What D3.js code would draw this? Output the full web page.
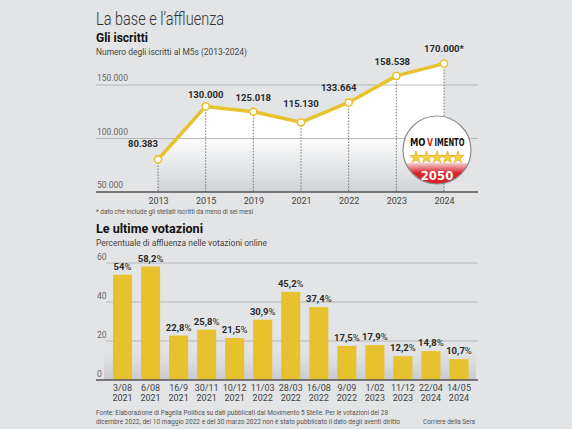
<!DOCTYPE html>
<html><head><meta charset="utf-8">
<script src="https://cdn.jsdelivr.net/npm/d3@7/dist/d3.min.js"></script>
<style>
html,body{margin:0;padding:0;background:#e2e4e6;}
svg{display:block;font-family:Roboto, "Open Sans", sans-serif;}
</style></head><body>
<svg id="c" width="572" height="429"></svg>
<script>
// ---- data ----
const years = ["2013","2015","2019","2021","2022","2023","2024"];
const members = [80383,130000,125018,115130,133664,158538,170000];
const memberLabels = ["80.383","130.000","125.018","115.130","133.664","158.538","170.000*"];
const memberTicks = [50000,100000,150000];
const memberTickLabels = ["50.000","100.000","150.000"];

const voteDays = ["3/08","6/08","16/9","30/11","10/12","11/03","28/03","16/08","9/09","1/02","11/12","22/04","14/05"];
const voteYears = ["2021","2021","2021","2021","2021","2022","2022","2022","2022","2023","2023","2024","2024"];
const turnout = [54,58.2,22.8,25.8,21.5,30.9,45.2,37.4,17.5,17.9,12.2,14.8,10.7];
const turnoutLabels = ["54","58,2","22,8","25,8","21,5","30,9","45,2","37,4","17,5","17,9","12,2","14,8","10,7"];
const turnoutTicks = [0,20,40,60];

// ---- drawing ----
const svg = d3.select("#c");
const gold = "#e8c22e";
const dark = "#2b2b2b";
const defs = svg.append("defs");

svg.append("rect").attr("width",572).attr("height",429).attr("fill","#e2e4e6");

// titles
svg.append("text").attr("x",96).attr("y",25).attr("font-size",18).attr("font-weight",300)
  .attr("fill","#333").attr("textLength",128).attr("lengthAdjust","spacingAndGlyphs").text("La base e l’affluenza");
svg.append("text").attr("x",96).attr("y",42).attr("font-size",13).attr("font-weight",700)
  .attr("fill","#111").attr("textLength",52).attr("lengthAdjust","spacingAndGlyphs").text("Gli iscritti");
svg.append("text").attr("x",96).attr("y",55).attr("font-size",8.5)
  .attr("fill","#444").attr("textLength",151).attr("lengthAdjust","spacingAndGlyphs").text("Numero degli iscritti al M5s (2013-2024)");

// line chart
const x1 = d3.scalePoint().domain(years).range([158,444]);
const y1 = d3.scaleLinear().domain([50000,150000]).range([192,85]);

const ag = defs.append("linearGradient").attr("id","ag")
  .attr("gradientUnits","userSpaceOnUse").attr("x1",0).attr("y1",y1(170000)).attr("x2",0).attr("y2",y1(50000));
ag.append("stop").attr("offset",0).attr("stop-color","#ffffff");
ag.append("stop").attr("offset",0.55).attr("stop-color","#ffffff");
ag.append("stop").attr("offset",1).attr("stop-color","#cfd2d5");

const area = d3.area().x((d,i)=>x1(years[i])).y0(y1(50000)).y1(d=>y1(d));
svg.append("path").datum(members).attr("d",area).attr("fill","url(#ag)");

// gridlines
memberTicks.forEach((t,i)=>{
  if (t>50000) svg.append("line").attr("x1",96).attr("x2",478).attr("y1",y1(t)).attr("y2",y1(t))
    .attr("stroke","#a9abad").attr("stroke-width",0.8);
  svg.append("text").attr("x",97).attr("y",y1(t)-4).attr("font-size",8.5).attr("fill","#666").text(memberTickLabels[i]);
});

// dashed drops
svg.selectAll(".drop").data(members).join("line")
  .attr("x1",(d,i)=>x1(years[i])).attr("x2",(d,i)=>x1(years[i]))
  .attr("y1",d=>y1(d)).attr("y2",y1(50000))
  .attr("stroke","#555").attr("stroke-width",0.8).attr("stroke-dasharray","1.5,1.5");

// axis
const xa = d3.axisBottom(x1).tickSize(0).tickPadding(6);
const gx = svg.append("g").attr("transform",`translate(0,${y1(50000)})`).call(xa);
gx.select(".domain").remove();
gx.selectAll("text").attr("font-size",9).attr("fill","#444").attr("font-family","Roboto, sans-serif");
svg.append("line").attr("x1",96).attr("x2",478).attr("y1",y1(50000)).attr("y2",y1(50000)).attr("stroke","#555").attr("stroke-width",1.5);

// line
const line = d3.line().x((d,i)=>x1(years[i])).y(d=>y1(d));
svg.append("path").datum(members).attr("d",line).attr("fill","none").attr("stroke",gold).attr("stroke-width",3.5).attr("stroke-linejoin","round");
svg.selectAll(".pt").data(members).join("circle")
  .attr("cx",(d,i)=>x1(years[i])).attr("cy",d=>y1(d)).attr("r",3.6)
  .attr("fill","#fff").attr("stroke",gold).attr("stroke-width",1.6);

// value labels
const lblOff = [[-15,-12],[0,-8],[0,-11],[0,-15],[-10,-11],[-4,-11],[0,-12]];
svg.selectAll(".vl").data(members).join("text")
  .attr("x",(d,i)=>x1(years[i])+lblOff[i][0]).attr("y",(d,i)=>y1(d)+lblOff[i][1])
  .attr("text-anchor","middle").attr("font-size",9.5).attr("font-weight",700).attr("fill",dark)
  .text((d,i)=>memberLabels[i]);

// logo
const lg = svg.append("g").attr("transform","translate(437,150)");
const R = 34;
defs.append("clipPath").attr("id","lc").append("circle").attr("r",R);
lg.append("circle").attr("r",R).attr("fill","#fff");
const lgc = lg.append("g").attr("clip-path","url(#lc)");
const rg = defs.append("linearGradient").attr("id","rg").attr("x1",0).attr("y1",0).attr("x2",0).attr("y2",1);
rg.append("stop").attr("offset",0).attr("stop-color","#f3d0d3");
rg.append("stop").attr("offset",0.3).attr("stop-color","#d9222c");
rg.append("stop").attr("offset",1).attr("stop-color","#d41f28");
lgc.append("rect").attr("x",-R).attr("y",13).attr("width",2*R).attr("height",R).attr("fill","url(#rg)");
lg.append("circle").attr("r",R).attr("fill","none").attr("stroke","#8a8c8e").attr("stroke-width",1.2);
const lf = "'DejaVu Sans Condensed', 'Liberation Sans Narrow', sans-serif";
lg.append("text").attr("x",-11.5).attr("y",-4).attr("text-anchor","end").attr("font-size",11).attr("font-weight",900)
  .attr("font-family",lf).attr("fill","#111").attr("textLength",15.5).attr("lengthAdjust","spacingAndGlyphs").text("MO");
lg.append("text").attr("x",-10).attr("y",-4).attr("text-anchor","start").attr("font-size",11).attr("font-weight",900)
  .attr("font-family",lf).attr("fill","#d41f28").attr("textLength",6).attr("lengthAdjust","spacingAndGlyphs").text("V");
lg.append("text").attr("x",-2.5).attr("y",-4).attr("text-anchor","start").attr("font-size",11).attr("font-weight",900)
  .attr("font-family",lf).attr("fill","#111").attr("textLength",30).attr("lengthAdjust","spacingAndGlyphs").text("IMENTO");
const star = d3.symbol().type(d3.symbolStar).size(48);
for (let k=0;k<5;k++){
  lg.append("path").attr("d",star()).attr("transform",`translate(${-21+k*10.5},7.5)`)
    .attr("fill","#f3d23a").attr("stroke","#d89a1a").attr("stroke-width",0.6);
}
lg.append("text").attr("x",0).attr("y",29.5).attr("text-anchor","middle").attr("font-size",13).attr("font-weight",700)
  .attr("fill","#fff").attr("font-family",lf).text("2050");

// footnote
svg.append("text").attr("x",96).attr("y",214).attr("font-size",7).attr("fill","#555")
  .attr("textLength",157).attr("lengthAdjust","spacingAndGlyphs").text("* dato che include gli stellati iscritti da meno di sei mesi");

// second section titles
svg.append("text").attr("x",96).attr("y",233).attr("font-size",13.5).attr("font-weight",700)
  .attr("fill","#111").attr("textLength",107).attr("lengthAdjust","spacingAndGlyphs").text("Le ultime votazioni");
svg.append("text").attr("x",96).attr("y",245.5).attr("font-size",9)
  .attr("fill","#444").attr("textLength",171).attr("lengthAdjust","spacingAndGlyphs").text("Percentuale di affluenza nelle votazioni online");

// bar chart
const x2 = d3.scaleBand().domain(d3.range(turnout.length)).range([108.5,473]).paddingInner(0.32).paddingOuter(0.16);
const y2 = d3.scaleLinear().domain([0,60]).range([380,263]);

const bg = defs.append("linearGradient").attr("id","bg").attr("gradientUnits","userSpaceOnUse")
  .attr("x1",0).attr("y1",340).attr("x2",0).attr("y2",380);
bg.append("stop").attr("offset",0).attr("stop-color","#e2e4e6").attr("stop-opacity",0);
bg.append("stop").attr("offset",1).attr("stop-color","#c6c9cd");
svg.append("rect").attr("x",104).attr("y",340).attr("width",372).attr("height",40).attr("fill","url(#bg)");

turnoutTicks.forEach(t=>{
  if (t>0) svg.append("line").attr("x1",106).attr("x2",478).attr("y1",y2(t)).attr("y2",y2(t))
    .attr("stroke","#a9abad").attr("stroke-width",0.8);
  svg.append("text").attr("x",97).attr("y",y2(t)-3.5).attr("font-size",8.5).attr("fill","#666").text(t);
});

svg.selectAll(".bar").data(turnout).join("rect")
  .attr("x",(d,i)=>x2(i)).attr("width",x2.bandwidth())
  .attr("y",d=>y2(d)).attr("height",d=>y2(0)-y2(d)).attr("fill",gold);

const bl = svg.selectAll(".bl").data(turnout).join("text")
  .attr("x",(d,i)=>x2(i)+x2.bandwidth()/2).attr("y",d=>y2(d)-5)
  .attr("text-anchor","middle").attr("font-size",9.5).attr("fill",dark);
bl.append("tspan").attr("font-weight",700).text((d,i)=>turnoutLabels[i]);
bl.append("tspan").attr("font-weight",400).text("%");

svg.append("line").attr("x1",96).attr("x2",478).attr("y1",380).attr("y2",380).attr("stroke","#555").attr("stroke-width",1.5);

svg.selectAll(".d1").data(voteDays).join("text")
  .attr("x",(d,i)=>x2(i)+x2.bandwidth()/2).attr("y",391).attr("text-anchor","middle")
  .attr("font-size",9).attr("fill","#444").text(d=>d);
svg.selectAll(".d2").data(voteYears).join("text")
  .attr("x",(d,i)=>x2(i)+x2.bandwidth()/2).attr("y",400.5).attr("text-anchor","middle")
  .attr("font-size",9).attr("fill","#444").text(d=>d);

// source
svg.append("text").attr("x",96).attr("y",415).attr("font-size",6.5).attr("fill","#555")
  .attr("textLength",292).attr("lengthAdjust","spacingAndGlyphs")
  .text("Fonte: Elaborazione di Pagella Politica su dati pubblicati dal Movimento 5 Stelle. Per le votazioni del 28");
svg.append("text").attr("x",96).attr("y",423.5).attr("font-size",6.5).attr("fill","#555")
  .attr("textLength",304).attr("lengthAdjust","spacingAndGlyphs")
  .text("dicembre 2022, del 10 maggio 2022 e del 30 marzo 2022 non è stato pubblicato il dato degli aventi diritto");
svg.append("text").attr("x",475).attr("y",423.5).attr("font-size",6.5).attr("fill","#555").attr("text-anchor","end")
  .attr("textLength",52).attr("lengthAdjust","spacingAndGlyphs").text("Corriere della Sera");
</script>
</body></html>
